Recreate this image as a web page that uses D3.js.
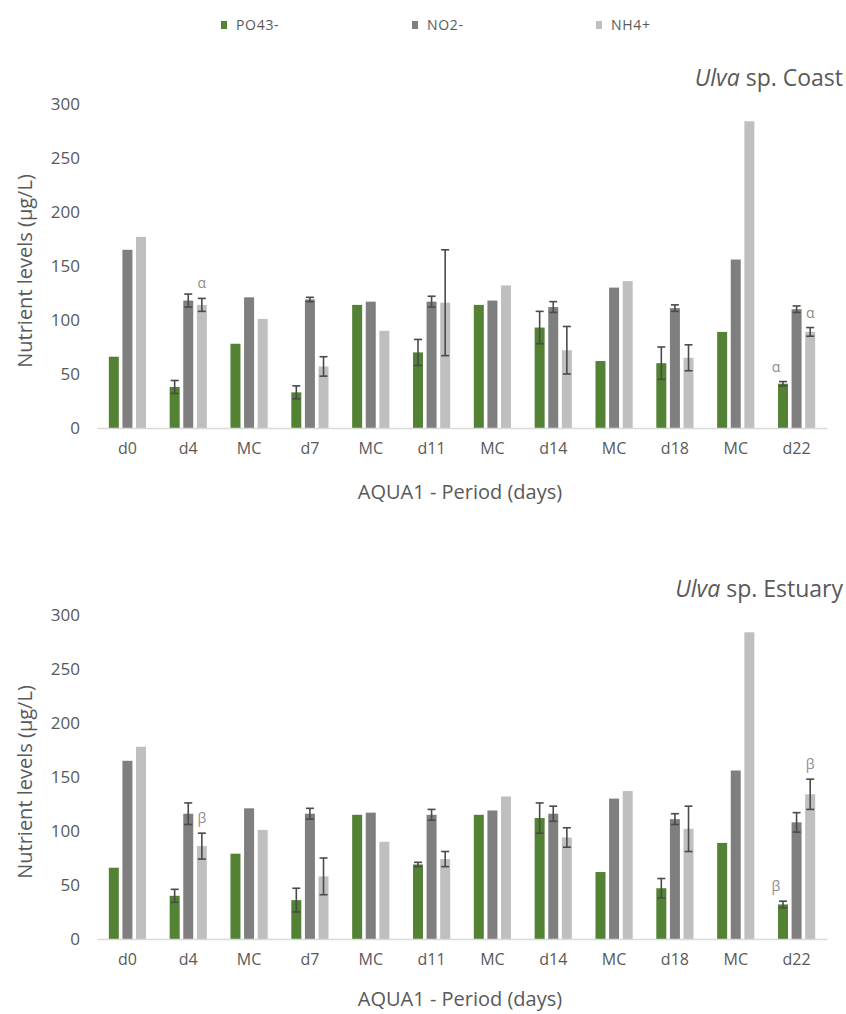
<!DOCTYPE html>
<html>
<head>
<meta charset="utf-8">
<script src="https://cdn.jsdelivr.net/npm/d3@7/dist/d3.min.js"></script>
<style>
  body { margin: 0; background: #fff; }
  svg { display: block; font-family: "Open Sans", "Noto Sans", sans-serif; }
</style>
</head>
<body>
<svg id="chart" width="846" height="1014"></svg>
<script>
// Sampling periods (MC = medium change)
const categories = ["d0", "d4", "MC", "d7", "MC", "d11", "MC", "d14", "MC", "d18", "MC", "d22"];
const seriesNames = ["PO43-", "NO2-", "NH4+"];
const seriesColors = ["#548235", "#7f7f7f", "#bfbfbf"];
const yTicks = [0, 50, 100, 150, 200, 250, 300];

// Ulva sp. Coast — means (µg/L)
const coastPO4 = [66, 38, 78, 33, 114, 70, 114, 93, 62, 60, 89, 41];
const coastNO2 = [165, 118, 121, 119, 117, 117, 118, 112, 130, 111, 156, 110];
const coastNH4 = [177, 114, 101, 57, 90, 116, 132, 72, 136, 65, 284, 89];
// standard deviations (null = no error bar)
const coastPO4Err = [null, 6, null, 6, null, 12, null, 15, null, 15, null, 2];
const coastNO2Err = [null, 6, null, 2, null, 5, null, 5, null, 3, null, 3];
const coastNH4Err = [null, 6, null, 9, null, 49, null, 22, null, 12, null, 4];
// significance marks: [category index, series index, symbol]
const coastMarks = [[1, 2, "α"], [11, 0, "α"], [11, 2, "α"]];

// Ulva sp. Estuary — means (µg/L)
const estuaryPO4 = [66, 40, 79, 36, 115, 69, 115, 112, 62, 47, 89, 32];
const estuaryNO2 = [165, 116, 121, 116, 117, 115, 119, 116, 130, 111, 156, 108];
const estuaryNH4 = [178, 86, 101, 58, 90, 74, 132, 94, 137, 102, 284, 134];
const estuaryPO4Err = [null, 6, null, 11, null, 2, null, 14, null, 9, null, 3];
const estuaryNO2Err = [null, 10, null, 5, null, 5, null, 7, null, 5, null, 9];
const estuaryNH4Err = [null, 12, null, 17, null, 7, null, 9, null, 21, null, 14];
const estuaryMarks = [[1, 2, "β"], [11, 0, "β"], [11, 2, "β"]];

const panels = [
  { title: "Ulva", titleRest: " sp. Coast", top: 104, bottom: 428, xTitleGap: 71,
    values: [coastPO4, coastNO2, coastNH4], errs: [coastPO4Err, coastNO2Err, coastNH4Err], marks: coastMarks },
  { title: "Ulva", titleRest: " sp. Estuary", top: 615, bottom: 939, xTitleGap: 67,
    values: [estuaryPO4, estuaryNO2, estuaryNH4], errs: [estuaryPO4Err, estuaryNO2Err, estuaryNH4Err], marks: estuaryMarks }
];

const svg = d3.select("#chart");
const textColor = "#595959";
const left = 97, right = 827;

const x = d3.scaleBand().domain(d3.range(categories.length)).range([left, right]).paddingInner(0).paddingOuter(0);
const barW = 10, barStep = 13.6;

// Legend
const legendX = [221, 412, 596];
seriesNames.forEach((name, i) => {
  svg.append("rect").attr("x", legendX[i]).attr("y", 21).attr("width", 6).attr("height", 8)
    .attr("fill", seriesColors[i]);
  svg.append("text").attr("x", legendX[i] + 15).attr("y", 30)
    .attr("font-size", 14).attr("letter-spacing", 0.7).attr("fill", textColor).text(name);
});

panels.forEach(p => {
  const y = d3.scaleLinear().domain([0, 300]).range([p.bottom, p.top]);
  const g = svg.append("g");

  // Y axis tick labels
  const yAxis = d3.axisLeft(y).tickValues(yTicks).tickSize(0).tickPadding(0);
  const ya = g.append("g").attr("transform", `translate(80,0)`).call(yAxis);
  ya.select(".domain").remove();
  ya.selectAll("text").attr("font-size", 17).attr("fill", textColor)
    .attr("font-family", "'Open Sans', sans-serif");

  // Bars
  p.values.forEach((vals, s) => {
    g.selectAll(null).data(vals).enter().append("rect")
      .attr("x", (d, i) => x(i) + x.bandwidth() / 2 + (s - 1) * barStep - barW / 2)
      .attr("y", d => y(d))
      .attr("width", barW)
      .attr("height", d => y(0) - y(d))
      .attr("fill", seriesColors[s]);
  });

  // Error bars
  p.errs.forEach((errs, s) => {
    errs.forEach((e, i) => {
      if (e == null) return;
      const cx = x(i) + x.bandwidth() / 2 + (s - 1) * barStep;
      const v = p.values[s][i];
      const y1 = y(v + e), y2 = y(v - e);
      const eg = g.append("g").attr("stroke", "#4a4a4a").attr("stroke-width", 1.6);
      eg.append("line").attr("x1", cx).attr("x2", cx).attr("y1", y1).attr("y2", y2);
      eg.append("line").attr("x1", cx - 4).attr("x2", cx + 4).attr("y1", y1).attr("y2", y1);
      eg.append("line").attr("x1", cx - 4).attr("x2", cx + 4).attr("y1", y2).attr("y2", y2);
    });
  });

  // Significance marks
  p.marks.forEach(([i, s, sym]) => {
    const cx = x(i) + x.bandwidth() / 2 + (s - 1) * barStep;
    const v = p.values[s][i];
    const e = p.errs[s][i] || 0;
    g.append("text").attr("x", cx - (s === 0 ? 7 : 0)).attr("y", y(v + e) - 10)
      .attr("text-anchor", "middle").attr("font-size", 14).attr("fill", "#8c8c8c").text(sym);
  });

  // X axis
  const xAxis = d3.axisBottom(x).tickFormat(i => categories[i]).tickSize(0).tickPadding(15);
  const xa = g.append("g").attr("transform", `translate(0,${p.bottom})`).call(xAxis);
  xa.select(".domain").attr("stroke", "#d9d9d9").attr("stroke-width", 1.5);
  xa.selectAll("text").attr("font-size", 16).attr("fill", textColor)
    .attr("font-family", "'Open Sans', sans-serif");

  // Axis titles
  g.append("text").attr("x", (left + right) / 2 - 2).attr("y", p.bottom + p.xTitleGap)
    .attr("text-anchor", "middle").attr("font-size", 20).attr("fill", textColor)
    .text("AQUA1 - Period (days)");
  g.append("text")
    .attr("transform", `translate(32,${(p.top + p.bottom) / 2 + 5}) rotate(-90)`)
    .attr("text-anchor", "middle").attr("font-size", 20).attr("fill", textColor)
    .text("Nutrient levels (µg/L)");

  // Panel title
  const t = g.append("text").attr("x", 843).attr("y", p.top - 18)
    .attr("text-anchor", "end").attr("font-size", 23).attr("fill", textColor);
  t.append("tspan").attr("font-style", "italic").text(p.title);
  t.append("tspan").text(p.titleRest);
});
</script>
</body>
</html>
